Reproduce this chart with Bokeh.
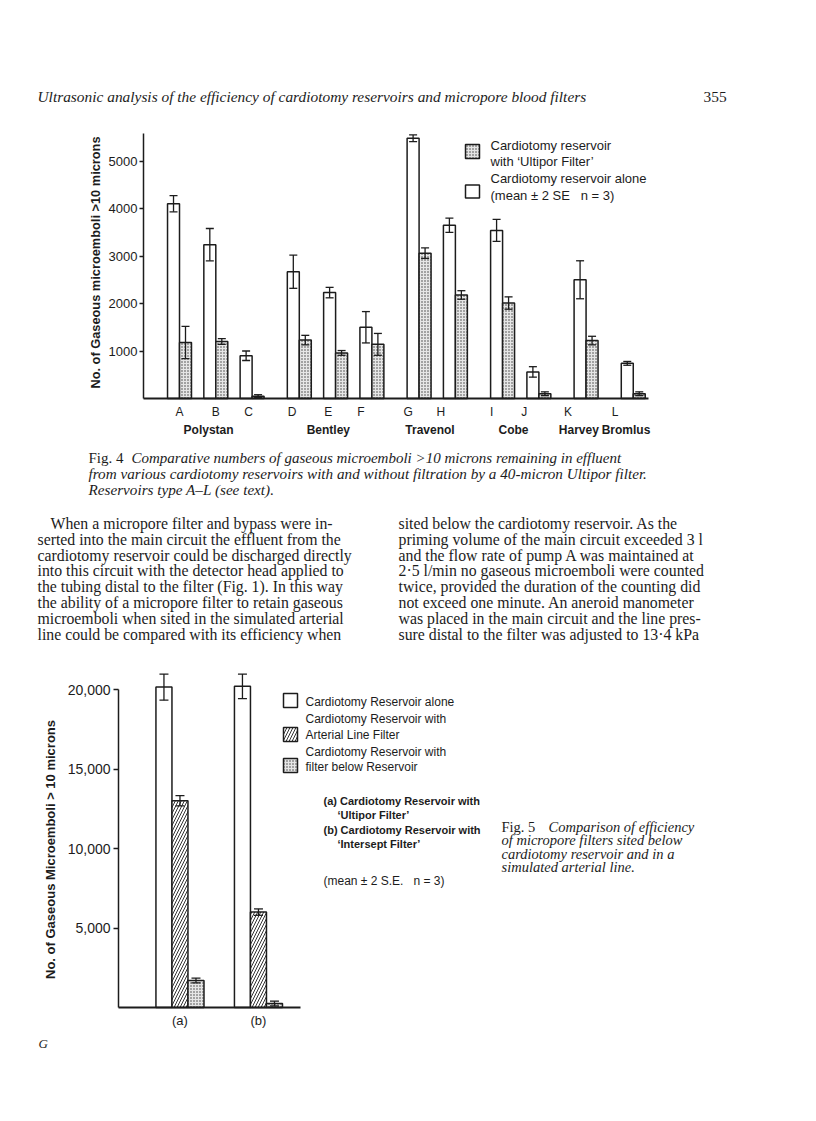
import math
from bokeh.plotting import figure
from bokeh.models import (Range1d, FixedTicker, Label, ColumnDataSource, Whisker,
                          TeeHead, NumeralTickFormatter, LinearAxis)
from bokeh.embed import file_html
from bokeh.resources import INLINE

# ---------------- Fig. 4 data ----------------
groups = ["Polystan", "Bentley", "Travenol", "Cobe", "Harvey", "Bromlus"]
group_sizes = [3, 3, 2, 2, 1, 1]
reservoirs = ["A", "B", "C", "D", "E", "F", "G", "H", "I", "J", "K", "L"]
alone_mean = [4100, 3240, 900, 2670, 2230, 1500, 5480, 3650, 3540, 560, 2500, 740]
alone_err = [170, 340, 100, 350, 110, 330, 70, 150, 230, 110, 400, 40]
ultipor_mean = [1180, 1200, 50, 1230, 960, 1140, 3060, 2180, 2010, 100, 1220, 100]
ultipor_err = [340, 60, 30, 100, 50, 230, 110, 90, 130, 40, 90, 40]
fig4_yticks = [1000, 2000, 3000, 4000, 5000]

# ---------------- Fig. 5 data ----------------
conditions = ["(a)", "(b)"]
reservoir_alone = [20150, 20200]
reservoir_alone_err = [820, 770]
arterial_filter = [13000, 6000]
arterial_filter_err = [320, 200]
filter_below = [1700, 250]
filter_below_err = [150, 150]
fig5_yticks = [5000, 10000, 15000, 20000]

INK = "#1c1c1c"
SANS = "Liberation Sans"
SERIF = "Liberation Serif"
NB = "\u00a0"

W, H = 800, 1105

# one page-sized figure; page text uses pixel coordinates (y downwards)
p = figure(width=W, height=H, output_backend="svg", toolbar_location=None,
           x_range=Range1d(0, W), y_range=Range1d(H, 0),
           x_axis_location=None, y_axis_location=None,
           min_border=0, min_border_left=0, min_border_right=0,
           min_border_top=0, min_border_bottom=0)
p.outline_line_color = None
p.grid.visible = False
p.background_fill_color = "white"
p.border_fill_color = "white"

# ---------- chart geometry (page pixels) ----------
F4L, F4R, F4B, F4T = 143, 648, 398, 133
PX4 = 3.63
X4_0 = -9.92
Y4_MAX = 5580
K4 = (F4B - F4T) / Y4_MAX
p.extra_x_ranges["c4x"] = Range1d(X4_0 - F4L / PX4, X4_0 + (W - F4L) / PX4)
p.extra_y_ranges["c4y"] = Range1d((F4B - H) / K4, F4B / K4)

F5L, F5R, F5B = 118, 300, 1007
PX5 = 78.5
X5_0 = -0.783
K5 = 318 / 20000
p.extra_x_ranges["c5x"] = Range1d(X5_0 - F5L / PX5, X5_0 + (W - F5L) / PX5)
p.extra_y_ranges["c5y"] = Range1d((F5B - H) / K5, F5B / K5)


def lab(x, y, text, size, font=SERIF, style="normal", align="left", angle=0.0, **kw):
    p.add_layout(Label(x=x, y=y, text=text, text_font=font, text_font_size=f"{size}px",
                       text_font_style=style, text_align=align, text_baseline="middle",
                       text_color=INK, angle=angle, **kw))


def whisk(src, xr, yr, head):
    p.add_layout(Whisker(source=src, base="x", upper="up", lower="lo", level="annotation",
                         x_range_name=xr, y_range_name=yr,
                         line_color=INK, line_width=1.3,
                         upper_head=TeeHead(size=head, line_color=INK, line_width=1.3),
                         lower_head=TeeHead(size=head, line_color=INK, line_width=1.3)))


STIP = dict(fill_color="#e6e6e6", hatch_pattern="dot", hatch_color="#3a3a3a",
            hatch_scale=3, hatch_weight=1)
HATCH = dict(fill_color="white", hatch_pattern="right_diagonal_line", hatch_color=INK,
             hatch_scale=6, hatch_weight=0.9)

# ======================= Fig. 4 =======================
pos = []
cur = 0
for n in group_sizes:
    for _ in range(n):
        pos.append(cur)
        cur += 10
    cur += 3
label_shift = [0, 0, -1, -2, -2, -3, -3, -4, -3, -4, -5, -5]
tick_pos = [q + s for q, s in zip(pos, label_shift)]

BW4 = 3.3
src_a = ColumnDataSource(dict(x=[q - BW4 / 2 for q in pos], top=alone_mean,
                              up=[m + e for m, e in zip(alone_mean, alone_err)],
                              lo=[m - e for m, e in zip(alone_mean, alone_err)]))
src_u = ColumnDataSource(dict(x=[q + BW4 / 2 for q in pos], top=ultipor_mean,
                              up=[m + e for m, e in zip(ultipor_mean, ultipor_err)],
                              lo=[max(m - e, 0) for m, e in zip(ultipor_mean, ultipor_err)]))
p.vbar(x="x", top="top", width=BW4, source=src_a, fill_color="white",
       line_color=INK, line_width=1.5, x_range_name="c4x", y_range_name="c4y")
p.vbar(x="x", top="top", width=BW4, source=src_u, line_color=INK, line_width=1.5,
       x_range_name="c4x", y_range_name="c4y", **STIP)
whisk(src_a, "c4x", "c4y", 8)
whisk(src_u, "c4x", "c4y", 8)

ax4 = LinearAxis(x_range_name="c4x", y_range_name="c4y", fixed_location=0,
                 bounds=(X4_0, X4_0 + (F4R - F4L) / PX4),
                 ticker=FixedTicker(ticks=tick_pos),
                 major_label_overrides={t: r for t, r in zip(tick_pos, reservoirs)},
                 major_tick_line_color=None, minor_tick_line_color=None,
                 major_tick_in=0, major_tick_out=0, minor_tick_in=0, minor_tick_out=0,
                 axis_line_width=2, axis_line_color=INK,
                 major_label_text_font=SANS, major_label_text_font_size="12px",
                 major_label_text_color=INK, major_label_standoff=6)
p.add_layout(ax4, "below")

ay4 = LinearAxis(x_range_name="c4x", y_range_name="c4y", fixed_location=X4_0,
                 bounds=(0, Y4_MAX), ticker=FixedTicker(ticks=fig4_yticks),
                 minor_tick_line_color=None, major_tick_in=0, major_tick_out=4,
                 minor_tick_in=0, minor_tick_out=0,
                 major_tick_line_width=1.5, major_tick_line_color=INK,
                 axis_line_width=1.5, axis_line_color=INK,
                 major_label_text_font=SANS, major_label_text_font_size="13px",
                 major_label_text_color=INK, major_label_standoff=2)
p.add_layout(ay4, "left")
lab(95, 262, "No. of Gaseous microemboli >10 microns", 12.8, SANS, "bold", "center",
    angle=math.pi / 2)

# manufacturer names
start = 0
for g, n in zip(groups, group_sizes):
    centre = sum(pos[start:start + n]) / n - 2
    lab(centre, 429, g, 12, SANS, "bold", "center", x_range_name="c4x")
    start += n

# legend
p.rect(x=[472], y=[151], width=14, height=14, line_color=INK, line_width=1.5, **STIP)
p.rect(x=[472], y=[191], width=14, height=13, fill_color="white", line_color=INK,
       line_width=1.5)
lab(490, 145, "Cardiotomy reservoir", 13, SANS)
lab(490, 161, "with \u2018Ultipor Filter\u2019", 13, SANS)
lab(490, 178, "Cardiotomy reservoir alone", 13, SANS)
lab(490, 195, "(mean \u00b1 2 SE" + NB * 3 + "n = 3)", 13, SANS)

# running head
lab(37, 96, "Ultrasonic analysis of the efficiency of cardiotomy reservoirs and micropore blood filters",
    15.4, SERIF, "italic")
lab(703, 96, "355", 15.4, SERIF)

# caption fig. 4
lab(88, 457, "Fig. 4", 15, SERIF)
lab(131, 457, "Comparative numbers of gaseous microemboli >10 microns remaining in effluent",
    15, SERIF, "italic")
lab(88, 473, "from various cardiotomy reservoirs with and without filtration by a 40-micron Ultipor filter.",
    15.2, SERIF, "italic")
lab(88, 489, "Reservoirs type A\u2013L (see text).", 15.2, SERIF, "italic")

# body text
left_col = ["When a micropore filter and bypass were in-",
            "serted into the main circuit the effluent from the",
            "cardiotomy reservoir could be discharged directly",
            "into this circuit with the detector head applied to",
            "the tubing distal to the filter (Fig. 1). In this way",
            "the ability of a micropore filter to retain gaseous",
            "microemboli when sited in the simulated arterial",
            "line could be compared with its efficiency when"]
right_col = ["sited below the cardiotomy reservoir. As the",
             "priming volume of the main circuit exceeded 3 l",
             "and the flow rate of pump A was maintained at",
             "2\u00b75 l/min no gaseous microemboli were counted",
             "twice, provided the duration of the counting did",
             "not exceed one minute. An aneroid manometer",
             "was placed in the main circuit and the line pres-",
             "sure distal to the filter was adjusted to 13\u00b74 kPa"]
for i, (lt, rt) in enumerate(zip(left_col, right_col)):
    yy = 523 + 15.8 * i
    lab(50 if i == 0 else 37, yy, lt, 15.8, SERIF)
    lab(398, yy, rt, 15.8, SERIF)

# ======================= Fig. 5 =======================
xc = list(range(len(conditions)))
BW5 = 0.204
series5 = [
    ([x - BW5 for x in xc], reservoir_alone, reservoir_alone_err, dict(fill_color="white")),
    (xc, arterial_filter, arterial_filter_err, HATCH),
    ([x + BW5 for x in xc], filter_below, filter_below_err, STIP),
]
for xs, m, e, style in series5:
    s = ColumnDataSource(dict(x=xs, top=m, up=[a + b for a, b in zip(m, e)],
                              lo=[max(a - b, 0) for a, b in zip(m, e)]))
    p.vbar(x="x", top="top", width=BW5, source=s, line_color=INK, line_width=1.5,
           x_range_name="c5x", y_range_name="c5y", **style)
    whisk(s, "c5x", "c5y", 9)

ax5 = LinearAxis(x_range_name="c5x", y_range_name="c5y", fixed_location=0,
                 bounds=(X5_0, X5_0 + (F5R - F5L) / PX5),
                 ticker=FixedTicker(ticks=xc),
                 major_label_overrides={x: c for x, c in zip(xc, conditions)},
                 major_tick_line_color=None, minor_tick_line_color=None,
                 major_tick_in=0, major_tick_out=0, minor_tick_in=0, minor_tick_out=0,
                 axis_line_width=2, axis_line_color=INK,
                 major_label_text_font=SANS, major_label_text_font_size="13px",
                 major_label_text_color=INK, major_label_standoff=5)
p.add_layout(ax5, "below")

ay5 = LinearAxis(x_range_name="c5x", y_range_name="c5y", fixed_location=X5_0,
                 bounds=(0, 20000), ticker=FixedTicker(ticks=fig5_yticks),
                 formatter=NumeralTickFormatter(format="0,0"),
                 minor_tick_line_color=None, major_tick_in=0, major_tick_out=5,
                 minor_tick_in=0, minor_tick_out=0,
                 major_tick_line_width=1.5, major_tick_line_color=INK,
                 axis_line_width=1.5, axis_line_color=INK,
                 major_label_text_font=SANS, major_label_text_font_size="14px",
                 major_label_text_color=INK, major_label_standoff=3)
p.add_layout(ay5, "left")
lab(50, 849, "No. of Gaseous Microemboli > 10 microns", 13, SANS, "bold", "center",
    angle=math.pi / 2)

# legend
p.rect(x=[290], y=[700], width=14, height=14, fill_color="white", line_color=INK,
       line_width=1.5)
p.rect(x=[290], y=[734], width=14, height=14, line_color=INK, line_width=1.5, **HATCH)
p.rect(x=[290], y=[765], width=14, height=14, line_color=INK, line_width=1.5, **STIP)
lab(305, 701, "Cardiotomy Reservoir alone", 12, SANS)
lab(305, 718, "Cardiotomy Reservoir with", 12, SANS)
lab(305, 734, "Arterial Line Filter", 12, SANS)
lab(305, 751, "Cardiotomy Reservoir with", 12, SANS)
lab(305, 766, "filter below Reservoir", 12, SANS)

lab(323, 800, "(a) Cardiotomy Reservoir with", 11, SANS, "bold")
lab(337, 814, "\u2018Ultipor Filter\u2019", 11, SANS, "bold")
lab(323, 829, "(b) Cardiotomy Reservoir with", 11, SANS, "bold")
lab(337, 843, "\u2018Intersept Filter\u2019", 11, SANS, "bold")
lab(323, 880, "(mean \u00b1 2 S.E." + NB * 3 + "n = 3)", 12, SANS)

# caption fig. 5
lab(501, 826, "Fig. 5", 14.5, SERIF)
lab(548, 826, "Comparison of efficiency", 14.5, SERIF, "italic")
lab(501, 839.5, "of micropore filters sited below", 14.5, SERIF, "italic")
lab(501, 853, "cardiotomy reservoir and in a", 14.5, SERIF, "italic")
lab(501, 866.5, "simulated arterial line.", 14.5, SERIF, "italic")

lab(38, 1043, "G", 13, SERIF, "italic")

open("out.html", "w").write(file_html(p, INLINE))
